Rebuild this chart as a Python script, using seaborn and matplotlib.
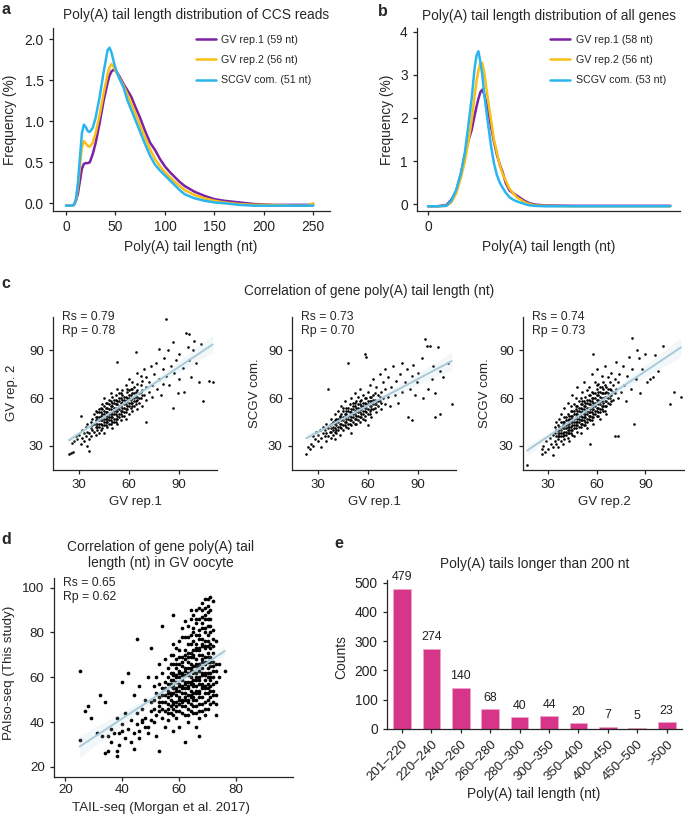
import numpy as np
import pandas as pd
import matplotlib
matplotlib.use("Agg")
import matplotlib.pyplot as plt
import seaborn as sns
from matplotlib.lines import Line2D

# ---- panel a: poly(A) length distribution of CCS reads (%)
a_len = [0, 5, 8, 10, 12, 14, 16, 18, 20, 22, 24, 27, 30, 34, 38, 42, 44, 46, 48, 50,
         54, 58, 62, 66, 70, 75, 80, 85, 90, 95, 100, 105, 110, 115, 120, 130, 140, 150,
         160, 175, 190, 210, 230, 245, 250]
a_rep1 = [-0.03, -0.03, -0.02, 0.03, 0.12, 0.27, 0.42, 0.48, 0.49, 0.49, 0.50, 0.60, 0.74,
          0.98, 1.25, 1.47, 1.56, 1.61, 1.63, 1.62, 1.55, 1.46, 1.38, 1.30, 1.18, 1.04, 0.88,
          0.74, 0.65, 0.54, 0.45, 0.38, 0.32, 0.26, 0.21, 0.14, 0.09, 0.05, 0.03, 0.01, -0.01,
          -0.02, -0.02, -0.02, -0.02]
a_rep2 = [-0.03, -0.03, -0.02, 0.04, 0.20, 0.45, 0.68, 0.76, 0.73, 0.70, 0.69, 0.74, 0.86,
          1.08, 1.34, 1.58, 1.66, 1.70, 1.67, 1.62, 1.53, 1.44, 1.33, 1.22, 1.10, 0.95, 0.80,
          0.66, 0.54, 0.45, 0.38, 0.32, 0.26, 0.21, 0.16, 0.10, 0.06, 0.03, 0.01, -0.01, -0.02,
          -0.02, -0.03, -0.03, 0.00]
a_scgv = [-0.03, -0.03, -0.02, 0.05, 0.25, 0.55, 0.85, 0.96, 0.93, 0.88, 0.87, 0.92, 1.05,
          1.30, 1.60, 1.87, 1.90, 1.84, 1.74, 1.65, 1.52, 1.42, 1.26, 1.14, 1.02, 0.87, 0.72,
          0.58, 0.47, 0.40, 0.34, 0.28, 0.22, 0.16, 0.11, 0.06, 0.03, 0.01, 0.00, -0.02, -0.03,
          -0.03, -0.03, -0.03, -0.03]

# ---- panel b: poly(A) length distribution of all genes (%)
b_len = [0, 10, 19, 24, 29, 34, 38, 42, 45, 48, 50, 52, 54, 56, 58, 60, 62, 65, 68, 71, 74,
         77, 80, 84, 88, 92, 96, 100, 105, 110, 120, 150, 200, 250]
b_rep1 = [-0.05, -0.05, -0.02, 0.10, 0.29, 0.72, 1.15, 1.50, 1.72, 2.05, 2.26, 2.45, 2.60,
          2.66, 2.55, 2.38, 2.18, 1.80, 1.45, 1.15, 0.92, 0.74, 0.50, 0.32, 0.25, 0.19, 0.13,
          0.07, 0.02, -0.01, -0.03, -0.04, -0.04, -0.04]
b_rep2 = [-0.05, -0.05, -0.04, 0.04, 0.25, 0.62, 1.00, 1.50, 1.95, 2.50, 2.85, 3.10, 3.27,
          3.28, 3.05, 2.72, 2.40, 1.95, 1.50, 1.20, 0.90, 0.70, 0.55, 0.36, 0.25, 0.15, 0.10,
          0.04, 0.00, -0.03, -0.04, -0.05, -0.05, -0.05]
b_scgv = [-0.05, -0.05, -0.04, 0.08, 0.33, 0.72, 1.20, 1.90, 2.45, 3.15, 3.45, 3.55, 3.30,
          3.00, 2.55, 2.20, 1.85, 1.35, 0.95, 0.68, 0.50, 0.38, 0.27, 0.16, 0.10, 0.06, 0.03,
          0.00, -0.03, -0.04, -0.05, -0.05, -0.05, -0.05]

a_labels = ["GV rep.1 (59 nt)", "GV rep.2 (56 nt)", "SCGV com. (51 nt)"]
b_labels = ["GV rep.1 (58 nt)", "GV rep.2 (56 nt)", "SCGV com. (53 nt)"]

# ---- panel c: gene tail length, replicate vs replicate (nt)
c1_pts = [(24, 25), (25.5, 25.3), (26.5, 26), (26, 32), (27, 33), (29, 34), (30, 37), (31, 49), (28, 36),
          (31, 31), (32, 35), (32, 40), (33, 38), (33, 33), (34, 42), (34, 36), (35, 30), (35, 39), (35, 44),
          (36, 27), (36, 34), (36, 38), (37, 41), (37, 45), (37, 36), (38, 40), (38, 47), (38, 43), (39, 39),
          (39, 44), (39, 50), (40, 37), (40, 42), (40, 46), (40, 52), (41, 40), (41, 44), (41, 48), (42, 42),
          (42, 46), (42, 51), (42, 38), (43, 44), (43, 49), (43, 54), (44, 41), (44, 46), (44, 50), (44, 56),
          (45, 43), (45, 47), (45, 52), (45, 38), (45, 60), (46, 45), (46, 49), (46, 54), (47, 42), (47, 47),
          (47, 51), (47, 57), (48, 44), (48, 48), (48, 53), (48, 59), (49, 46), (49, 50), (49, 55), (49, 63),
          (50, 41), (50, 48), (50, 52), (50, 57), (50, 61), (51, 45), (51, 50), (51, 54), (51, 59), (52, 47),
          (52, 52), (52, 56), (52, 62), (53, 44), (53, 49), (53, 54), (53, 58), (53, 66), (54, 50), (54, 55),
          (54, 60), (55, 46), (55, 52), (55, 57), (55, 63), (53, 83), (56, 49), (56, 54), (56, 59), (56, 65),
          (57, 51), (57, 56), (57, 61), (58, 47), (58, 53), (58, 58), (58, 68), (59, 55), (59, 60), (59, 64),
          (60, 50), (60, 57), (60, 62), (60, 72), (61, 54), (61, 59), (61, 66), (62, 52), (62, 57), (62, 63),
          (62, 70), (63, 55), (63, 60), (63, 67), (64, 58), (64, 64), (64, 89), (65, 53), (65, 61), (65, 69),
          (65, 76), (66, 57), (66, 63), (67, 60), (67, 68), (67, 74), (68, 55), (68, 65), (68, 71), (69, 62),
          (69, 78), (70, 59), (70, 67), (70, 73), (70, 45), (72, 64), (72, 70), (73, 80), (74, 61), (74, 68),
          (75, 75), (76, 82), (77, 66), (78, 72), (78, 91), (79, 62), (80, 78), (80, 69), (81, 85), (82, 110),
          (82, 74), (83, 90), (84, 68), (85, 80), (86, 95), (86, 54), (87, 76), (88, 84), (89, 63), (90, 88),
          (90, 72), (92, 79), (93, 64), (94, 101), (95, 92), (96, 100), (96, 84), (97, 73), (98, 90),
          (99, 96), (100, 82), (102, 70), (103, 94), (104, 58), (108, 71), (110, 70)]
c1_core = [(40, 44), (40, 48), (41, 42), (41, 46), (41, 51), (42, 44), (42, 48), (42, 53), (43, 40), (43, 46),
           (43, 51), (44, 43), (44, 48), (44, 53), (45, 45), (45, 50), (45, 55), (46, 43), (46, 47), (46, 51),
           (46, 57), (47, 45), (47, 49), (47, 54), (48, 46), (48, 50), (48, 56), (49, 44), (49, 48), (49, 53),
           (49, 58), (50, 45), (50, 50), (50, 55), (51, 47), (51, 52), (51, 57), (52, 45), (52, 50), (52, 54),
           (52, 59), (53, 47), (53, 52), (53, 56), (54, 48), (54, 53), (54, 58), (54, 63), (55, 50), (55, 55),
           (55, 60), (56, 52), (56, 57), (56, 62), (57, 49), (57, 54), (57, 59), (58, 51), (58, 56), (58, 61),
           (59, 53), (59, 58), (59, 66), (60, 55), (60, 60), (60, 65), (61, 57), (61, 62), (62, 55), (62, 60),
           (62, 66), (63, 58), (63, 63), (64, 56), (64, 61), (65, 59), (65, 65), (66, 60), (67, 64), (68, 62)]
c2_pts = [(23, 25), (24, 29), (25, 28), (26, 31), (27, 30), (27, 36), (28, 34), (29, 39), (30, 33), (30, 37),
          (31, 40), (32, 29), (32, 35), (33, 38), (33, 42), (34, 36), (34, 40), (35, 33), (35, 38), (35, 44),
          (36, 66), (36, 41), (36, 36), (37, 39), (37, 43), (38, 35), (38, 41), (38, 47), (39, 37), (39, 42),
          (40, 39), (40, 44), (40, 50), (40, 34), (41, 38), (41, 43), (41, 47), (42, 40), (42, 45), (42, 52),
          (43, 37), (43, 42), (43, 48), (44, 44), (44, 50), (44, 55), (45, 40), (45, 46), (45, 52), (46, 43),
          (46, 48), (46, 58), (47, 45), (47, 50), (47, 54), (48, 41), (48, 47), (48, 52), (48, 82), (49, 44),
          (49, 49), (49, 56), (50, 46), (50, 51), (50, 60), (50, 38), (51, 48), (51, 53), (51, 57), (52, 44),
          (52, 50), (52, 55), (52, 63), (53, 47), (53, 52), (53, 58), (54, 49), (54, 54), (54, 61), (55, 45),
          (55, 51), (55, 56), (55, 66), (56, 48), (56, 53), (56, 59), (57, 50), (57, 55), (57, 62), (58, 46),
          (58, 52), (58, 57), (58, 88), (59, 54), (59, 60), (59, 86), (60, 50), (60, 56), (60, 64), (60, 43),
          (61, 52), (61, 58), (61, 68), (62, 55), (62, 61), (62, 48), (63, 53), (63, 59), (63, 72), (64, 56),
          (64, 63), (65, 51), (65, 58), (65, 67), (66, 55), (66, 62), (67, 58), (67, 75), (68, 53), (68, 64),
          (69, 60), (69, 70), (70, 56), (70, 66), (70, 78), (72, 61), (72, 73), (73, 55), (74, 67), (75, 80),
          (76, 62), (77, 71), (78, 57), (79, 75), (80, 64), (80, 82), (82, 70), (83, 78), (84, 48), (85, 66),
          (86, 46), (86, 74), (87, 81), (88, 62), (89, 70), (90, 76), (92, 85), (93, 60), (94, 97), (95, 93),
          (96, 66), (97, 93), (98, 72), (99, 80), (100, 48), (100, 63), (102, 92), (103, 50), (103, 77),
          (105, 73), (108, 82), (110, 56)]
c2_core = [(38, 39), (38, 44), (39, 40), (39, 45), (40, 41), (40, 46), (41, 40), (41, 45), (42, 42), (42, 47),
           (43, 44), (43, 49), (44, 41), (44, 46), (45, 43), (45, 48), (45, 54), (46, 45), (46, 50), (47, 42),
           (47, 47), (47, 52), (48, 44), (48, 49), (48, 54), (49, 46), (49, 51), (50, 43), (50, 48), (50, 53),
           (51, 45), (51, 50), (51, 55), (52, 47), (52, 52), (52, 57), (53, 44), (53, 49), (53, 54), (54, 46),
           (54, 51), (54, 56), (55, 48), (55, 53), (55, 58), (56, 50), (56, 55), (57, 47), (57, 52), (57, 57),
           (58, 49), (58, 54), (58, 60), (59, 51), (59, 56), (60, 53), (60, 58), (61, 50), (61, 55), (61, 61),
           (62, 53), (62, 58), (63, 56), (63, 62), (64, 54), (64, 59), (65, 56), (66, 58), (67, 61), (68, 57)]
c3_pts = [(17, 18), (26, 28), (26, 25), (27, 30), (28, 26), (29, 33), (30, 28), (31, 35), (32, 31), (33, 24),
          (33, 37), (33, 29), (34, 33), (34, 38), (34, 42), (35, 31), (35, 36), (35, 40), (35, 45), (36, 34),
          (36, 38), (36, 43), (36, 29), (37, 36), (37, 40), (37, 47), (38, 33), (38, 38), (38, 42), (38, 50),
          (39, 36), (39, 41), (39, 45), (39, 31), (40, 34), (40, 39), (40, 43), (40, 48), (40, 54), (41, 37),
          (41, 41), (41, 46), (42, 35), (42, 40), (42, 44), (42, 50), (42, 57), (43, 38), (43, 42), (43, 47),
          (43, 33), (44, 40), (44, 45), (44, 49), (44, 55), (45, 37), (45, 43), (45, 47), (45, 52), (45, 62),
          (46, 41), (46, 45), (46, 50), (46, 56), (46, 36), (47, 43), (47, 48), (47, 53), (47, 60), (48, 39),
          (48, 45), (48, 50), (48, 55), (48, 67), (49, 42), (49, 47), (49, 52), (49, 58), (50, 44), (50, 49),
          (50, 54), (50, 60), (50, 38), (51, 46), (51, 51), (51, 56), (51, 64), (52, 43), (52, 48), (52, 53),
          (52, 58), (52, 70), (53, 45), (53, 50), (53, 55), (53, 61), (54, 47), (54, 52), (54, 57), (54, 65),
          (54, 41), (55, 49), (55, 54), (55, 59), (55, 67), (56, 31), (56, 46), (56, 51), (56, 56), (56, 62),
          (57, 48), (57, 53), (57, 58), (57, 64), (57, 75), (58, 50), (58, 55), (58, 60), (58, 88), (58, 44),
          (59, 52), (59, 57), (59, 63), (59, 70), (60, 49), (60, 54), (60, 59), (60, 66), (60, 78), (61, 51),
          (61, 56), (61, 62), (61, 69), (62, 53), (62, 58), (62, 64), (62, 47), (63, 55), (63, 60), (63, 67),
          (63, 74), (64, 52), (64, 57), (64, 63), (64, 70), (65, 55), (65, 61), (65, 68), (65, 80), (66, 58),
          (66, 64), (66, 50), (67, 60), (67, 66), (67, 73), (68, 56), (68, 62), (68, 70), (69, 65), (69, 76),
          (70, 59), (70, 68), (71, 36), (71, 63), (71, 72), (72, 66), (72, 83), (73, 36), (73, 60), (73, 70),
          (74, 75), (75, 64), (76, 80), (77, 68), (78, 58), (79, 74), (80, 86), (81, 66), (82, 98), (82, 78),
          (83, 44), (84, 72), (85, 90), (86, 85), (87, 63), (88, 78), (90, 88), (91, 70), (93, 72), (95, 73),
          (96, 87), (98, 77), (101, 93), (105, 56), (108, 64), (112, 61)]
c3_core = [(36, 36), (36, 40), (37, 38), (37, 42), (38, 36), (38, 40), (38, 45), (39, 38), (39, 43), (40, 37),
           (40, 41), (40, 45), (41, 39), (41, 43), (41, 48), (42, 38), (42, 42), (42, 46), (43, 40), (43, 44),
           (43, 49), (44, 38), (44, 42), (44, 47), (44, 52), (45, 40), (45, 45), (45, 49), (46, 43), (46, 47),
           (46, 52), (47, 41), (47, 45), (47, 50), (47, 55), (48, 43), (48, 47), (48, 52), (49, 45), (49, 49),
           (49, 54), (50, 42), (50, 46), (50, 51), (50, 56), (51, 44), (51, 48), (51, 53), (51, 58), (52, 46),
           (52, 50), (52, 55), (53, 43), (53, 48), (53, 52), (53, 57), (54, 45), (54, 50), (54, 54), (54, 59),
           (55, 47), (55, 51), (55, 56), (55, 62), (56, 49), (56, 53), (56, 58), (57, 46), (57, 51), (57, 55),
           (57, 60), (58, 48), (58, 53), (58, 57), (58, 63), (59, 50), (59, 55), (59, 60), (60, 52), (60, 57),
           (60, 62), (60, 68), (61, 49), (61, 54), (61, 59), (61, 64), (62, 51), (62, 56), (62, 61), (62, 67),
           (63, 53), (63, 58), (63, 63), (64, 55), (64, 60), (64, 66), (65, 52), (65, 58), (65, 63), (66, 55),
           (66, 61), (66, 67), (67, 57), (67, 63), (68, 60), (68, 66), (69, 58), (69, 62), (70, 64)]
c_stats = [("Rs = 0.79", "Rp = 0.78"), ("Rs = 0.73", "Rp = 0.70"), ("Rs = 0.74", "Rp = 0.73")]
c_xlabels = ["GV rep.1", "GV rep.1", "GV rep.2"]
c_ylabels = ["GV rep. 2", "SCGV com.", "SCGV com."]

# ---- panel d: this study vs TAIL-seq (nt)
d_pts = [(25, 63), (25, 32), (27, 45), (28, 47), (29, 42), (31, 35), (32, 52), (33, 34), (34, 26), (34, 49),
         (35, 27), (35, 34), (36, 31), (36, 37), (37, 35), (38, 25), (38, 27), (38, 42), (39, 35), (39, 30),
         (40, 39), (40, 58), (40, 36), (41, 44), (41, 33), (42, 62), (42, 37), (43, 41), (43, 31), (44, 35),
         (44, 52), (44, 28), (45, 77), (45, 39), (45, 44), (46, 56), (46, 36), (46, 33), (47, 41), (47, 46),
         (47, 40), (48, 50), (48, 38), (48, 42), (49, 60), (49, 38), (49, 35), (50, 73), (50, 45), (50, 49),
         (50, 41), (51, 40), (51, 50), (51, 56), (51, 46), (52, 43), (52, 53), (52, 60), (52, 34), (53, 27),
         (53, 47), (53, 51), (53, 57), (53, 66), (54, 83), (54, 42), (54, 49), (54, 55), (54, 62), (55, 45),
         (55, 52), (55, 58), (55, 68), (55, 38), (56, 48), (56, 54), (56, 60), (56, 64), (56, 41), (57, 44),
         (57, 50), (57, 56), (57, 62), (57, 70), (58, 88), (58, 36), (58, 46), (58, 53), (58, 59), (58, 66),
         (58, 75), (59, 42), (59, 49), (59, 55), (59, 61), (59, 68), (60, 45), (60, 51), (60, 57), (60, 63),
         (60, 72), (60, 38), (61, 47), (61, 53), (61, 59), (61, 65), (61, 78), (62, 31), (62, 43), (62, 50),
         (62, 55), (62, 61), (62, 68), (62, 85), (63, 46), (63, 52), (63, 58), (63, 64), (63, 71), (63, 40),
         (64, 48), (64, 54), (64, 60), (64, 66), (64, 75), (64, 90), (65, 44), (65, 50), (65, 56), (65, 62),
         (65, 69), (65, 80), (66, 47), (66, 53), (66, 59), (66, 65), (66, 72), (66, 84), (66, 38), (67, 34),
         (67, 45), (67, 51), (67, 57), (67, 63), (67, 70), (67, 77), (67, 91), (68, 48), (68, 55), (68, 61),
         (68, 67), (68, 74), (68, 82), (68, 93), (69, 46), (69, 53), (69, 59), (69, 66), (69, 73), (69, 86),
         (69, 95), (70, 50), (70, 57), (70, 64), (70, 71), (70, 79), (70, 95), (71, 48), (71, 56), (71, 62),
         (71, 69), (71, 96), (72, 49), (72, 54), (72, 60), (72, 67), (73, 43), (73, 58), (74, 66), (76, 63)]
d_core = [(56, 44), (56, 51), (56, 57), (57, 47), (57, 53), (57, 59), (57, 66), (58, 43), (58, 49), (58, 56),
          (58, 62), (58, 70), (59, 45), (59, 52), (59, 58), (59, 64), (59, 73), (60, 48), (60, 54), (60, 60),
          (60, 66), (60, 76), (61, 44), (61, 50), (61, 56), (61, 62), (61, 69), (61, 82), (62, 47), (62, 53),
          (62, 58), (62, 64), (62, 72), (62, 78), (63, 43), (63, 49), (63, 55), (63, 61), (63, 67), (63, 75),
          (63, 83), (64, 45), (64, 51), (64, 57), (64, 63), (64, 69), (64, 79), (64, 86), (65, 47), (65, 53),
          (65, 59), (65, 65), (65, 72), (65, 76), (65, 88), (66, 44), (66, 50), (66, 56), (66, 62), (66, 68),
          (66, 75), (66, 79), (66, 90), (67, 42), (67, 48), (67, 54), (67, 60), (67, 66), (67, 73), (67, 81),
          (67, 86), (68, 45), (68, 51), (68, 57), (68, 64), (68, 70), (68, 77), (68, 87), (69, 43), (69, 49),
          (69, 56), (69, 62), (69, 69), (69, 76), (69, 80), (69, 91), (70, 46), (70, 53), (70, 60), (70, 67),
          (70, 74), (70, 83), (70, 89), (71, 51), (71, 59), (71, 65), (71, 73), (71, 80), (71, 86), (72, 57),
          (72, 63), (72, 71), (72, 77), (73, 52), (73, 63), (74, 60)]
d_core2 = [(58, 48), (58, 55), (58, 61), (59, 47), (59, 54), (59, 60), (59, 66), (60, 50), (60, 56), (60, 62),
           (60, 69), (61, 49), (61, 55), (61, 61), (61, 67), (62, 51), (62, 57), (62, 63), (62, 70), (63, 50),
           (63, 56), (63, 62), (63, 69), (63, 78), (64, 52), (64, 58), (64, 64), (64, 71), (65, 51), (65, 57),
           (65, 63), (65, 70), (65, 82), (66, 54), (66, 60), (66, 66), (66, 73), (66, 86), (67, 53), (67, 59),
           (67, 65), (67, 72), (67, 79), (68, 56), (68, 62), (68, 68), (68, 75), (68, 84), (68, 90), (69, 55),
           (69, 61), (69, 67), (69, 74), (69, 82), (69, 88), (70, 55), (70, 62), (70, 69), (70, 76), (70, 86),
           (70, 92), (71, 54), (71, 60), (71, 67), (71, 75), (71, 83), (71, 90), (72, 52), (72, 65), (72, 74),
           (72, 81), (72, 94), (73, 48), (73, 66), (73, 76), (57, 52), (57, 57), (56, 46), (56, 53), (55, 49),
           (55, 55), (54, 46), (54, 52), (53, 45), (53, 49)]

# ---- panel e: tails longer than 200 nt
e_bins = ["201–220", "220–240", "240–260", "260–280", "280–300",
          "300–350", "350–400", "400–450", "450–500", ">500"]
e_counts = [479, 274, 140, 68, 40, 44, 20, 7, 5, 23]

colors = ["#7B22A5", "#F9BF14", "#2AB5EE"]
reg_color = "#A9CAD9"
bar_color = "#D6358A"

sns.set_style("ticks")
plt.rcParams["font.family"] = ["Liberation Sans", "DejaVu Sans"]
plt.rcParams["axes.linewidth"] = 0.9
plt.rcParams["xtick.major.size"] = 3.2
plt.rcParams["ytick.major.size"] = 3.2
plt.rcParams["xtick.major.width"] = 0.9
plt.rcParams["ytick.major.width"] = 0.9
plt.rcParams["xtick.color"] = "#222222"
plt.rcParams["ytick.color"] = "#222222"

FS = 9.9      # titles, ticks, axis labels
FS_SMALL = 7.7

W, H = 685, 817
fig = plt.figure(figsize=(W / 100, H / 100), dpi=100)


def add_ax(x0, y0, x1, y1):
    ax = fig.add_axes([x0 / W, 1 - y1 / H, (x1 - x0) / W, (y1 - y0) / H])
    sns.despine(ax=ax)
    return ax


def ftext(x, y, s, **kw):
    fig.text(x / W, 1 - y / H, s, **kw)


def place_labels(ax, box, xl, yl, xlab, ylab, size):
    x0, y0, x1, y1 = box
    ax.set_xlabel(xlab, fontsize=size, va="center")
    ax.set_ylabel(ylab, fontsize=size, va="center")
    ax.xaxis.set_label_coords((xl[0] - x0) / (x1 - x0), (y1 - xl[1]) / (y1 - y0))
    ax.yaxis.set_label_coords((yl[0] - x0) / (x1 - x0), (y1 - yl[1]) / (y1 - y0))


# ---------- a ----------
box_a = (53, 28, 330, 211)
ax = add_ax(*box_a)
df_a = pd.DataFrame({"len": a_len * 3,
                     "freq": a_rep1 + a_rep2 + a_scgv,
                     "sample": sum([[l] * len(a_len) for l in a_labels], [])})
sns.lineplot(data=df_a, x="len", y="freq", hue="sample", palette=colors, lw=1.8, ax=ax, legend=False)
ax.set_xlim(-13.2, 267)
ax.set_ylim(-0.095, 2.14)
ax.set_xticks([0, 50, 100, 150, 200, 250])
ax.set_yticks([0, 0.5, 1.0, 1.5, 2.0])
ax.set_yticklabels(["0.0", "0.5", "1.0", "1.5", "2.0"])
ax.tick_params(labelsize=FS)
place_labels(ax, box_a, (191, 247), (10, 120), "Poly(A) tail length (nt)", "Frequency (%)", FS)
ftext(196, 15, "Poly(A) tail length distribution of CCS reads", fontsize=FS, ha="center", va="center")
handles = [Line2D([0], [0], color=c, lw=1.8) for c in colors]
ax.legend(handles, a_labels, loc="upper left", bbox_to_anchor=(0.50, 0.985), frameon=False,
          fontsize=FS_SMALL, handlelength=1.9, handletextpad=0.5, labelspacing=0.95, borderaxespad=0)

# ---------- b ----------
box_b = (417, 28, 680, 211)
ax = add_ax(*box_b)
df_b = pd.DataFrame({"len": b_len * 3,
                     "freq": b_rep1 + b_rep2 + b_scgv,
                     "sample": sum([[l] * len(b_len) for l in b_labels], [])})
sns.lineplot(data=df_b, x="len", y="freq", hue="sample", palette=colors, lw=1.8, ax=ax, legend=False)
ax.set_xlim(-11.4, 260)
ax.set_ylim(-0.16, 4.09)
ax.set_xticks([0])
ax.set_yticks([0, 1, 2, 3, 4])
ax.tick_params(labelsize=FS)
place_labels(ax, box_b, (549, 247), (387, 120), "Poly(A) tail length (nt)", "Frequency (%)", FS)
ftext(549, 16, "Poly(A) tail length distribution of all genes", fontsize=FS, ha="center", va="center")
ax.legend(handles, b_labels, loc="upper left", bbox_to_anchor=(0.49, 0.985), frameon=False,
          fontsize=FS_SMALL, handlelength=1.9, handletextpad=0.5, labelspacing=0.95, borderaxespad=0)

# ---------- c ----------
c_boxes = [(53, 317, 217, 470), (292, 317, 456, 470), (523, 317, 685, 470)]
c_ylab_x = [12, 255, 485]
c_sets = [c1_pts + c1_core, c2_pts + c2_core, c3_pts + c3_core]
for i, pts in enumerate(c_sets):
    box = c_boxes[i]
    ax = add_ax(*box)
    df = pd.DataFrame(pts, columns=["x", "y"])
    sns.scatterplot(data=df, x="x", y="y", s=3.5, color="black", linewidth=0, ax=ax)
    sns.regplot(data=df, x="x", y="y", scatter=False, color=reg_color, line_kws={"lw": 1.4}, ax=ax)
    ax.set_xlim(14.5, 112.6 if i < 2 else 114.5)
    ax.set_ylim(14.8, 111)
    ax.set_xticks([30, 60, 90])
    ax.set_yticks([30, 60, 90])
    ax.tick_params(labelsize=9.5)
    place_labels(ax, box, ((box[0] + box[2]) / 2, 502), (c_ylab_x[i], 393),
                 c_xlabels[i], c_ylabels[i], 9.5)
    ax.text(9 / (box[2] - box[0]), 1 - (324 - box[1]) / (box[3] - box[1]),
            c_stats[i][0] + "\n" + c_stats[i][1], transform=ax.transAxes,
            fontsize=8.8, va="center", ha="left", linespacing=1.2)
ftext(369, 291, "Correlation of gene poly(A) tail length (nt)", fontsize=9.8, ha="center", va="center")

# ---------- d ----------
box_d = (54, 578, 293, 777)
ax = add_ax(*box_d)
df_d = pd.DataFrame(d_pts + d_core + d_core2, columns=["x", "y"])
sns.scatterplot(data=df_d, x="x", y="y", s=7, color="black", linewidth=0, ax=ax)
sns.regplot(data=df_d, x="x", y="y", scatter=False, color=reg_color, line_kws={"lw": 1.4}, ax=ax)
ax.set_xlim(16, 100)
ax.set_ylim(15.5, 104.3)
ax.set_xticks([20, 40, 60, 80])
ax.set_yticks([20, 40, 60, 80, 100])
ax.tick_params(labelsize=9.6)
ax.tick_params(axis="x", pad=2)
place_labels(ax, box_d, (161, 808), (9, 673), "TAIL-seq (Morgan et al. 2017)", "PAIso-seq (This study)", 9.6)
ax.text(9 / 239, 1 - 12 / 199, "Rs = 0.65\nRp = 0.62", transform=ax.transAxes,
        fontsize=8.8, va="center", ha="left", linespacing=1.2)
ftext(161, 555, "Correlation of gene poly(A) tail\nlength (nt) in GV oocyte",
      fontsize=FS, ha="center", va="center", linespacing=1.15)

# ---------- e ----------
box_e = (387, 580, 682, 729)
ax = add_ax(*box_e)
df_e = pd.DataFrame({"bin": e_bins, "count": e_counts})
sns.barplot(data=df_e, x="bin", y="count", color=bar_color, width=0.6, saturation=1,
            edgecolor="#EFA6CB", linewidth=0.5, ax=ax)
ax.bar_label(ax.containers[0], fontsize=8.9, padding=4, color="#222222")
ax.set_xlim(-0.51, 9.52)
ax.set_ylim(0, 509)
ax.set_yticks([0, 100, 200, 300, 400, 500])
ax.tick_params(axis="y", labelsize=FS)
ax.tick_params(axis="x", labelsize=9.5)
for lab in ax.get_xticklabels():
    lab.set_rotation(45)
    lab.set_ha("right")
    lab.set_rotation_mode("anchor")
place_labels(ax, box_e, (534, 794), (341, 657), "Poly(A) tail length (nt)", "Counts", FS)
ftext(535, 564, "Poly(A) tails longer than 200 nt", fontsize=FS, ha="center", va="center")

# panel letters
for s, x, y in [("a", 6, 9), ("b", 383, 11), ("c", 6, 283), ("d", 6, 540), ("e", 339, 543)]:
    ftext(x, y, s, fontsize=11.5, fontweight="bold", ha="center", va="center")

fig.savefig("out.png", dpi=100)
